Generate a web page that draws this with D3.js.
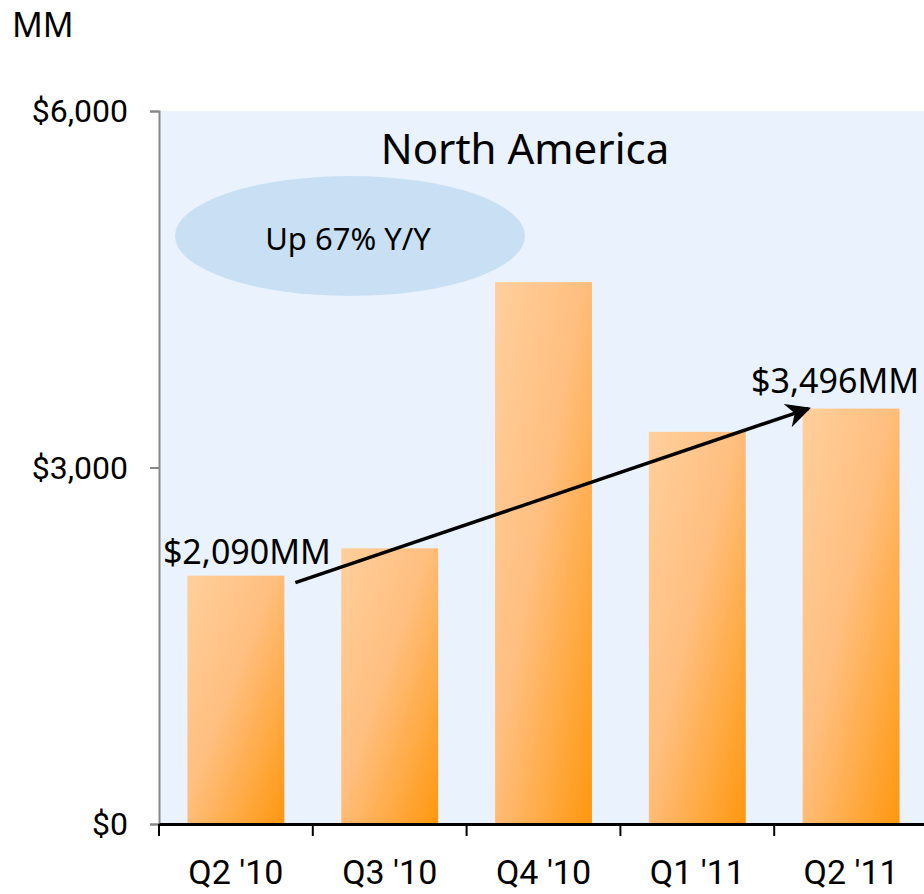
<!DOCTYPE html>
<html>
<head>
<meta charset="utf-8">
<script src="https://cdn.jsdelivr.net/npm/d3@7"></script>
<style>
  body { margin: 0; background: #fff; }
  svg { display: block; }
  .axis text { font-family: "Roboto", sans-serif; fill: #000; }
</style>
</head>
<body>
<svg id="chart" width="924" height="894"></svg>
<script>
const quarters = ["Q2 '10", "Q3 '10", "Q4 '10", "Q1 '11", "Q2 '11"]
const revenue = [2090, 2320, 4560, 3300, 3496]
const yTicks = [0, 3000, 6000]
const yTickLabels = ["$0", "$3,000", "$6,000"]
const title = "North America"
const growthNote = "Up 67% Y/Y"

const svg = d3.select("#chart")
const margin = {top: 111, right: -4, bottom: 70, left: 159}
const width = +svg.attr("width")
const height = +svg.attr("height")

const x = d3.scaleBand()
  .domain(quarters)
  .range([margin.left, width - margin.right])
  .paddingInner(0.37)
  .paddingOuter(0.185)

const y = d3.scaleLinear()
  .domain([0, 6000])
  .range([height - margin.bottom, margin.top])

// gradient for the bars
const defs = svg.append("defs")
const grad = defs.append("linearGradient")
  .attr("id", "barGrad")
  .attr("x1", 0).attr("y1", 0).attr("x2", 1).attr("y2", 1)
grad.append("stop").attr("offset", "0%").attr("stop-color", "#ffcf9c")
grad.append("stop").attr("offset", "45%").attr("stop-color", "#ffbf80")
grad.append("stop").attr("offset", "100%").attr("stop-color", "#ff970e")

defs.append("marker")
  .attr("id", "arrowHead")
  .attr("viewBox", "0 0 10 10")
  .attr("refX", 9).attr("refY", 5)
  .attr("markerWidth", 7).attr("markerHeight", 7)
  .attr("markerUnits", "strokeWidth")
  .attr("orient", "auto")
  .append("path")
  .attr("d", "M0,0 L10,5 L0,10 L3,5 Z")
  .attr("fill", "#000")

// plot background
svg.append("rect")
  .attr("x", margin.left)
  .attr("y", y(6000))
  .attr("width", width - margin.left)
  .attr("height", y(0) - y(6000))
  .attr("fill", "#eaf2fd")

// "MM" unit label
svg.append("text")
  .attr("x", 12).attr("y", 37)
  .attr("font-family", "Noto Sans, sans-serif")
  .attr("font-size", 34)
  .text("MM")

// bars
svg.selectAll(".bar")
  .data(revenue)
  .enter()
  .append("rect")
  .attr("class", "bar")
  .attr("x", (d, i) => x(quarters[i]))
  .attr("y", d => y(d))
  .attr("width", x.bandwidth())
  .attr("height", d => y(0) - y(d))
  .attr("fill", "url(#barGrad)")

// y axis
const yAxis = svg.append("g")
  .attr("class", "axis")
  .attr("transform", `translate(${margin.left}, 0)`)
  .call(d3.axisLeft(y).tickValues(yTicks).tickFormat((d, i) => yTickLabels[i]).tickSize(9).tickPadding(22))
yAxis.select(".domain").attr("stroke", "#888").attr("stroke-width", 2)
yAxis.selectAll(".tick line").attr("stroke", "#888").attr("stroke-width", 2)
yAxis.selectAll("text").attr("font-size", 32).attr("dy", "0.34em")

// x axis
const xTickPos = quarters.map(q => x(q) - x.step() * x.paddingInner() / 2)
const xAxis = svg.append("g")
  .attr("class", "axis")
  .attr("transform", `translate(0, ${y(0)})`)
  .call(d3.axisBottom(x).tickSize(0).tickPadding(36))
xAxis.select(".domain").attr("stroke", "#000").attr("stroke-width", 3)
xAxis.selectAll("text").attr("font-size", 34)
xAxis.selectAll(".sep")
  .data(xTickPos)
  .enter()
  .append("line")
  .attr("class", "sep")
  .attr("x1", d => d).attr("x2", d => d)
  .attr("y1", 0).attr("y2", 12)
  .attr("stroke", "#000").attr("stroke-width", 2)

// title
svg.append("text")
  .attr("x", 525).attr("y", 164)
  .attr("text-anchor", "middle")
  .attr("font-family", "Noto Sans, sans-serif")
  .attr("font-size", 42)
  .text(title)

// growth note ellipse
svg.append("ellipse")
  .attr("cx", 350).attr("cy", 236)
  .attr("rx", 175).attr("ry", 60)
  .attr("fill", "#c9e0f4")
svg.append("text")
  .attr("x", 348).attr("y", 250)
  .attr("text-anchor", "middle")
  .attr("font-family", "Noto Sans, sans-serif")
  .attr("font-size", 31)
  .text(growthNote)

// arrow from first to last quarter
const first = 0, last = revenue.length - 1
svg.append("line")
  .attr("x1", x(quarters[first]) + x.bandwidth() + 11)
  .attr("y1", y(revenue[first]) + 7)
  .attr("x2", x(quarters[last]) + 6)
  .attr("y2", y(revenue[last]))
  .attr("stroke", "#000")
  .attr("stroke-width", 3.5)
  .attr("marker-end", "url(#arrowHead)")

// value labels
const fmt = d => "$" + d3.format(",")(d) + "MM"
svg.append("text")
  .attr("x", x(quarters[first]) + x.bandwidth() / 2 + 11)
  .attr("y", y(revenue[first]) - 12)
  .attr("text-anchor", "middle")
  .attr("font-family", "Noto Sans, sans-serif")
  .attr("font-size", 34)
  .text(fmt(revenue[first]))
svg.append("text")
  .attr("x", x(quarters[last]) + x.bandwidth() / 2 - 16)
  .attr("y", y(revenue[last]) - 16)
  .attr("text-anchor", "middle")
  .attr("font-family", "Noto Sans, sans-serif")
  .attr("font-size", 34)
  .text(fmt(revenue[last]))
</script>
</body>
</html>
